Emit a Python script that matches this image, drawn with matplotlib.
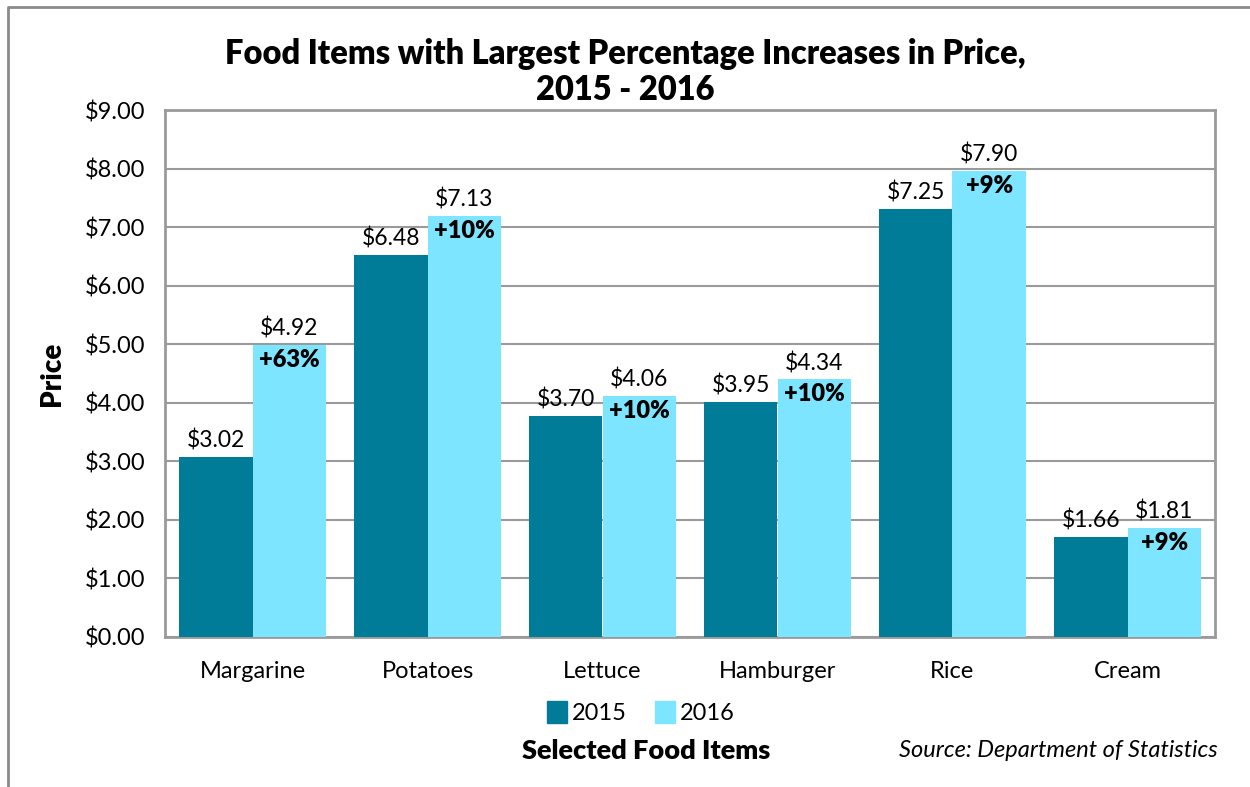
import numpy as np
import matplotlib.pyplot as plt
from matplotlib.lines import Line2D
from matplotlib.patches import Patch

# data
items = ['Margarine', 'Potatoes', 'Lettuce', 'Hamburger', 'Rice', 'Cream']
price_2015 = [3.08, 6.52, 3.77, 4.01, 7.31, 1.71]
price_2016 = [4.99, 7.19, 4.12, 4.40, 7.96, 1.87]
labels_2015 = ['$3.02', '$6.48', '$3.70', '$3.95', '$7.25', '$1.66']
labels_2016 = ['$4.92', '$7.13', '$4.06', '$4.34', '$7.90', '$1.81']
pct_change = ['+63%', '+10%', '+10%', '+10%', '+9%', '+9%']
yticks = np.arange(0, 10, 1)

plt.rcParams['font.family'] = ['Lato', 'DejaVu Sans']

c15 = '#007B98'
c16 = '#7DE5FF'
grid_c = '#9a9a9a'

fig = plt.figure(figsize=(12.5, 7.87), dpi=100)
ax = fig.add_axes([0.132, 0.1906, 0.84, 0.6696])

x = np.arange(len(items))
w = 0.418
ax.bar(x - w / 2, price_2015, w, color=c15, zorder=3)
ax.bar(x + w / 2, price_2016, w, color=c16, zorder=3)

for i in range(len(items)):
    ax.text(x[i] - w / 2, price_2015[i] + 0.09, labels_2015[i], ha='center', va='bottom',
            fontsize=16.5)
    ax.text(x[i] + w / 2, price_2016[i] + 0.09, labels_2016[i], ha='center', va='bottom',
            fontsize=16.5)
    ax.text(x[i] + w / 2, price_2016[i] - 0.07, pct_change[i], ha='center', va='top',
            fontsize=17, fontweight='heavy')

ax.set_xlim(-0.5, len(items) - 0.5)
ax.set_ylim(0, 9)
ax.set_yticks(yticks)
ax.set_yticklabels(['${:.2f}'.format(v) for v in yticks], fontsize=17)
ax.set_xticks(x)
ax.set_xticklabels(items, fontsize=17)
ax.tick_params(axis='x', length=0, pad=17)
ax.tick_params(axis='y', length=0, pad=14)
ax.yaxis.grid(True, color=grid_c, lw=1.5, zorder=0)
for s in ax.spines.values():
    s.set_color(grid_c)
    s.set_linewidth(2)

ax.set_ylabel('Price', fontsize=20, fontweight='heavy', labelpad=14)

fig.suptitle('Food Items with Largest Percentage Increases in Price,\n2015 - 2016',
             y=0.952, fontsize=23.5, fontweight='heavy', linespacing=1.15)

handles = [Patch(color=c15, label='2015'), Patch(color=c16, label='2016')]
fig.legend(handles=handles, loc='center', bbox_to_anchor=(0.513, 0.095), ncol=2,
           frameon=False, fontsize=17, handlelength=0.85, handleheight=1.1,
           handletextpad=0.2, columnspacing=1.2)

fig.text(0.517, 0.046, 'Selected Food Items', ha='center', va='center', fontsize=19.5,
         fontweight='heavy')
fig.text(0.974, 0.046, 'Source: Department of Statistics', ha='right', va='center',
         fontsize=17, style='italic')

# outer frame (left and top edges visible)
fig.add_artist(Line2D([0.0064, 0.0064, 1.0], [0.0, 0.991, 0.991], color='#8a8a8a', lw=2,
                      transform=fig.transFigure))

fig.savefig('out.png', dpi=100)
